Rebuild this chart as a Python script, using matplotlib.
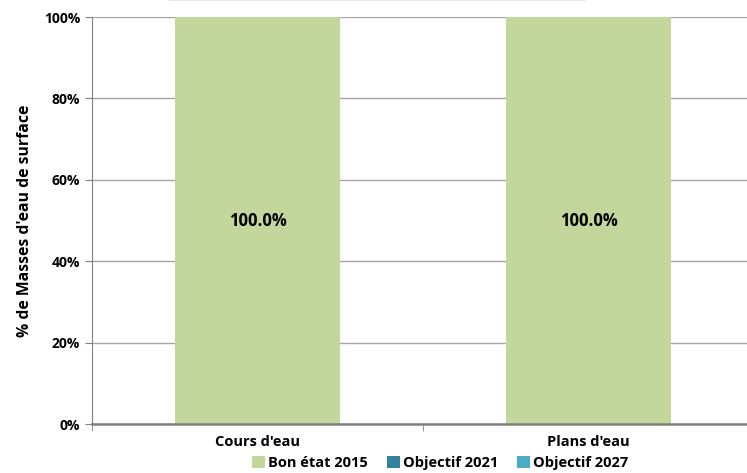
import matplotlib.pyplot as plt
from matplotlib.patches import Patch
from matplotlib.ticker import PercentFormatter

categories = ["Cours d'eau", "Plans d'eau"]
series_names = ['Bon état 2015', 'Objectif 2021', 'Objectif 2027']
bon_etat_2015 = [100.0, 100.0]
objectif_2021 = [0.0, 0.0]
objectif_2027 = [0.0, 0.0]
colors = ['#c3d69b', '#31849b', '#4bacc6']

plt.rcParams['font.family'] = ['Open Sans', 'DejaVu Sans']

fig = plt.figure(figsize=(7.47, 4.73), dpi=100)
ax = fig.add_axes([92 / 747, 1 - 424 / 473, 662 / 747, 407 / 473])

x = list(range(len(categories)))
bottom = [0.0] * len(categories)
for name, vals, col in zip(series_names, [bon_etat_2015, objectif_2021, objectif_2027], colors):
    ax.bar(x, vals, width=0.5, bottom=bottom, color=col, label=name, zorder=2)
    for xi, v, b in zip(x, vals, bottom):
        if v > 0:
            ax.text(xi, b + v / 2, f'{v:.1f}%', ha='center', va='center',
                    fontsize=12, fontweight='bold', color='black', zorder=3)
    bottom = [b + v for b, v in zip(bottom, vals)]

ax.set_xlim(-0.5, len(categories) - 0.5)
ax.set_ylim(0, 100)
ax.set_yticks(range(0, 101, 20))
ax.yaxis.set_major_formatter(PercentFormatter(decimals=0))
ax.yaxis.grid(True, color='#a6a6a6', linewidth=1, zorder=0)

ax.set_xticks(x)
ax.set_xticklabels(categories, fontsize=10.5, fontweight='bold')
ax.set_xticks([-0.5, 0.5, 1.5], minor=True)
ax.tick_params(axis='x', which='major', length=0, pad=8)
ax.tick_params(axis='x', which='minor', length=5, color='#808080', direction='out')
ax.tick_params(axis='y', length=5, color='#808080', labelsize=10)
for lbl in ax.get_yticklabels():
    lbl.set_fontweight('bold')

for s in ['top', 'right']:
    ax.spines[s].set_visible(False)
ax.spines['left'].set_color('#808080')
ax.spines['bottom'].set_color('#808080')
ax.spines['bottom'].set_linewidth(1.8)

ax.set_ylabel("% de Masses d'eau de surface", fontsize=11.3, fontweight='bold', labelpad=8)

handles = [Patch(facecolor=c, label=n) for n, c in zip(series_names, colors)]
fig.legend(handles=handles, loc='center', bbox_to_anchor=(440 / 747, 1 - 463 / 473),
           ncol=3, frameon=False, handlelength=0.9, handleheight=0.9,
           handletextpad=0.2, columnspacing=1.3, prop={'weight': 'bold', 'size': 10.5})

fig.add_artist(plt.Line2D([170 / 747, 585 / 747], [1 - 0.5 / 473, 1 - 0.5 / 473],
                          color='#e3e3dc', linewidth=1.2, transform=fig.transFigure))

fig.savefig('out.png', dpi=100)
